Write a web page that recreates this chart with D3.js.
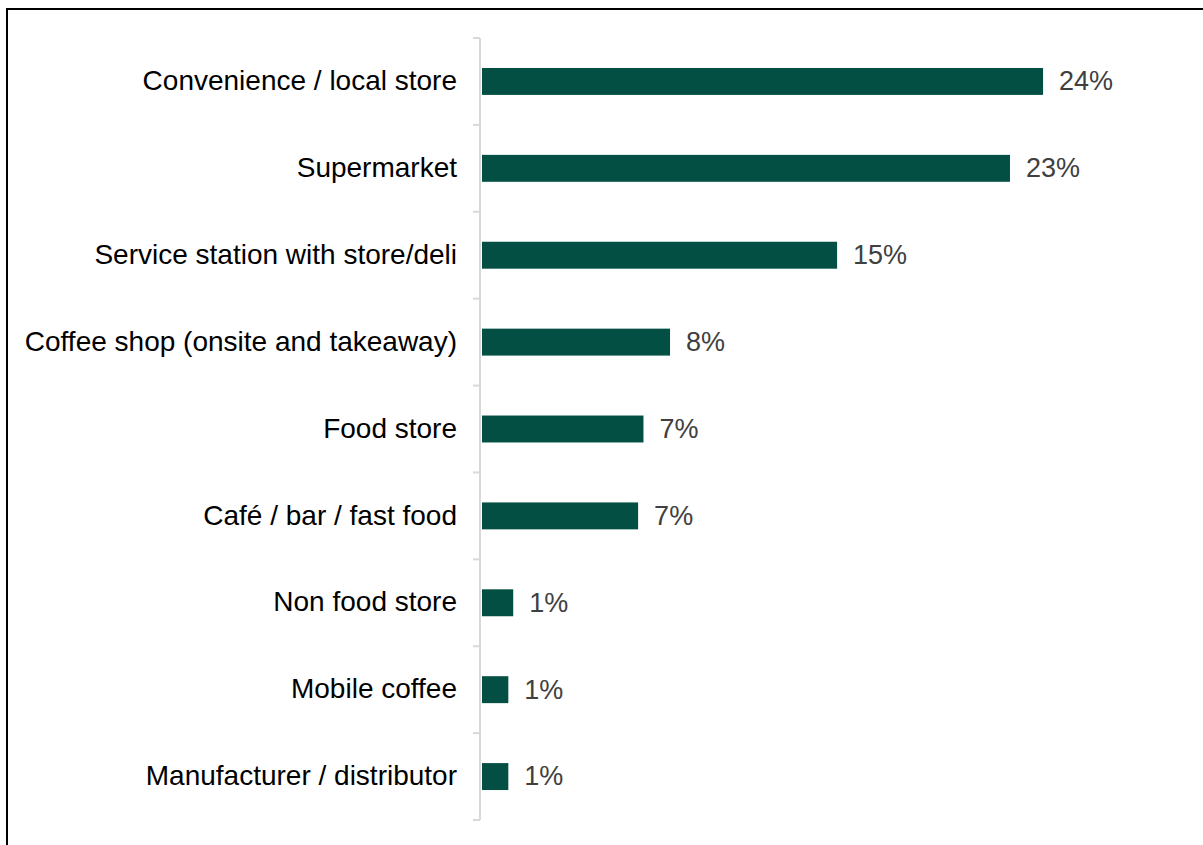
<!DOCTYPE html>
<html>
<head>
<meta charset="utf-8">
<script src="https://cdn.jsdelivr.net/npm/d3@7"></script>
<style>
  html, body { margin: 0; padding: 0; background: #fff; }
  svg { display: block; }
</style>
</head>
<body>
<svg id="chart" width="1203" height="845"></svg>
<script>
const categories = [
  "Convenience / local store",
  "Supermarket",
  "Service station with store/deli",
  "Coffee shop (onsite and takeaway)",
  "Food store",
  "Café / bar / fast food",
  "Non food store",
  "Mobile coffee",
  "Manufacturer / distributor"
];
const values = [24.08, 22.66, 15.24, 8.07, 6.93, 6.7, 1.34, 1.13, 1.13];

const svg = d3.select("#chart");
const W = 1203, H = 845;

// frame
svg.append("line").attr("x1", 7).attr("x2", W).attr("y1", 9).attr("y2", 9)
  .attr("stroke", "#000").attr("stroke-width", 2);
svg.append("line").attr("x1", 7).attr("x2", 7).attr("y1", 8).attr("y2", H)
  .attr("stroke", "#000").attr("stroke-width", 2);

const x0 = 482;
const x = d3.scaleLinear().domain([0, 25]).range([x0, x0 + 25 * 23.3]);
const y = d3.scaleBand().domain(categories).range([38, 820]).paddingInner(0.69).paddingOuter(0.345);
const yb = d3.scaleBand().domain(categories).range([38, 820]);

// axis line + ticks at band boundaries
const axisX = 480;
svg.append("line").attr("x1", axisX).attr("x2", axisX).attr("y1", 38).attr("y2", 820)
  .attr("stroke", "#d9d9d9").attr("stroke-width", 2);
const bounds = categories.map(c => yb(c)).concat([yb(categories[categories.length - 1]) + yb.bandwidth()]);
svg.selectAll("line.tick").data(bounds).enter().append("line")
  .attr("class", "tick")
  .attr("x1", 473).attr("x2", axisX)
  .attr("y1", d => d).attr("y2", d => d)
  .attr("stroke", "#d9d9d9").attr("stroke-width", 2);

// category labels
svg.selectAll("text.cat").data(categories).enter().append("text")
  .attr("class", "cat")
  .attr("x", 457)
  .attr("y", d => yb(d) + yb.bandwidth() / 2)
  .attr("dy", "0.31em")
  .attr("text-anchor", "end")
  .attr("font-family", "Liberation Sans, Arial, sans-serif")
  .attr("font-size", 28)
  .attr("fill", "#000")
  .text(d => d);

// bars
svg.selectAll("rect.bar").data(values).enter().append("rect")
  .attr("class", "bar")
  .attr("x", x(0))
  .attr("y", (d, i) => y(categories[i]))
  .attr("width", d => x(d) - x(0))
  .attr("height", y.bandwidth())
  .attr("fill", "#034f44");

// value labels
svg.selectAll("text.val").data(values).enter().append("text")
  .attr("class", "val")
  .attr("x", d => x(d) + 16)
  .attr("y", (d, i) => yb(categories[i]) + yb.bandwidth() / 2)
  .attr("dy", "0.33em")
  .attr("font-family", "Liberation Sans, Arial, sans-serif")
  .attr("font-size", 27)
  .attr("fill", "#404040")
  .text(d => Math.round(d) + "%");
</script>
</body>
</html>
